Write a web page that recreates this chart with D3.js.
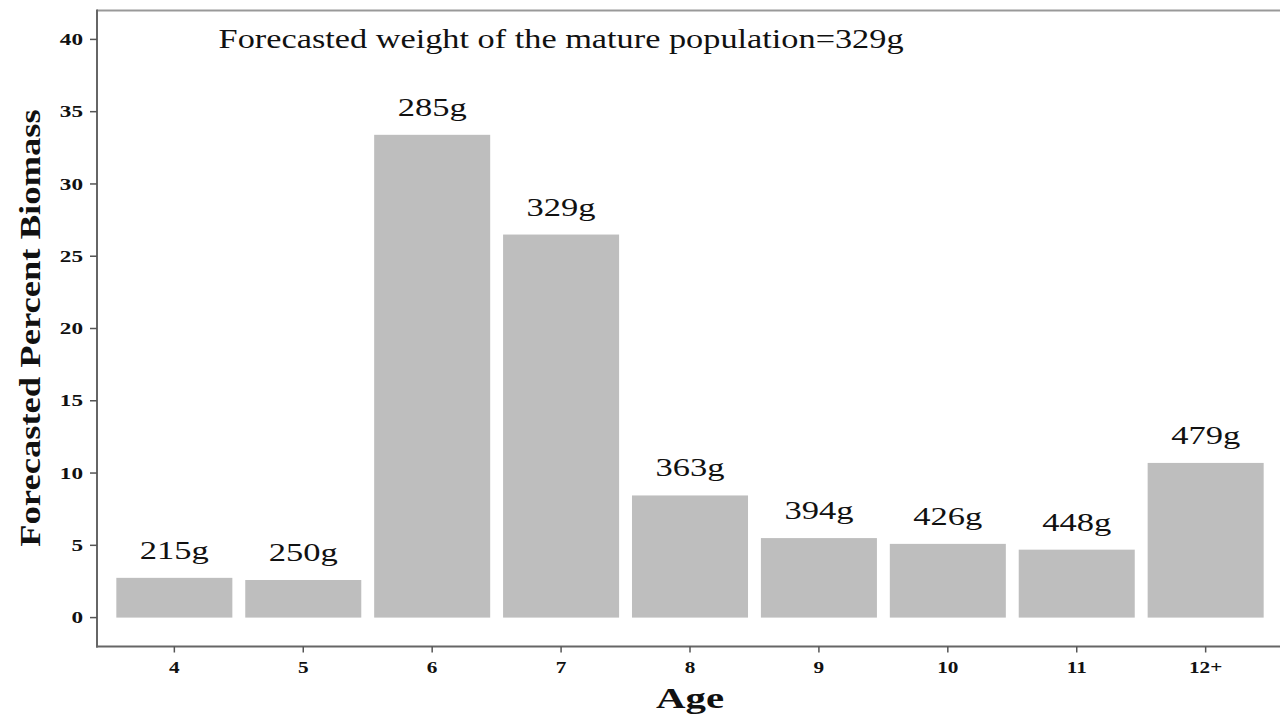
<!DOCTYPE html>
<html>
<head>
<meta charset="utf-8">
<script src="https://cdn.jsdelivr.net/npm/d3@7"></script>
<style>
  body { margin: 0; background: #fff; }
  text { font-family: "Liberation Serif", "Times New Roman", serif; fill: #111; }
</style>
</head>
<body>
<div id="vis"></div>
<script>
'use strict';

// data
var ages = ['4', '5', '6', '7', '8', '9', '10', '11', '12+'];
var percentBiomass = [2.75, 2.6, 33.4, 26.5, 8.45, 5.5, 5.1, 4.7, 10.7];
var weightLabels = ['215g', '250g', '285g', '329g', '363g', '394g', '426g', '448g', '479g'];
var yTicks = [0, 5, 10, 15, 20, 25, 30, 35, 40];
var noteText = 'Forecasted weight of the mature population=329g';

//layout
var width = 1280, height = 717;
var margin = { top: 10.5, left: 97 };
var dim = { w: 1186, h: 636 };

var x = d3.scaleBand().domain(ages).range([0, dim.w]).paddingInner(0.1).paddingOuter(0.15);
var y = d3.scaleLinear().domain([-2, 42]).range([dim.h, 0]);

var svg = d3.select('#vis')
    .append('svg')
    .attr('width', width)
    .attr('height', height)
    .append('g')
    .attr('transform', 'translate(' + margin.left + ',' + margin.top + ')');

//text that is stretched sideways like in the picture
function stretchedText(parent, px, py, str, size, sx, opts) {
    opts = opts || {};
    var g = parent.append('g')
        .attr('transform', 'translate(' + px + ',' + py + ')' + (opts.rotate ? ' rotate(' + opts.rotate + ')' : '') + ' scale(' + sx + ',1)');
    return g.append('text')
        .attr('text-anchor', opts.anchor || 'middle')
        .attr('dominant-baseline', opts.baseline || 'auto')
        .style('font-size', size + 'px')
        .style('font-weight', opts.bold ? 'bold' : 'normal')
        .text(str);
}

//bars
svg.selectAll('.bar')
    .data(percentBiomass)
    .enter()
    .append('rect')
    .attr('class', 'bar')
    .attr('x', function (d, i) { return x(ages[i]); })
    .attr('width', x.bandwidth())
    .attr('y', function (d) { return y(d); })
    .attr('height', function (d) { return y(0) - y(d); })
    .style('fill', '#bebebe');

//weight labels above bars
percentBiomass.forEach(function (d, i) {
    stretchedText(svg, x(ages[i]) + x.bandwidth() / 2, y(d) - 19, weightLabels[i], 25, 1.38);
});

//note
stretchedText(svg, x('7') + x.bandwidth() / 2, y(40), noteText, 27, 1.27, { baseline: 'central' });

//panel border (top)
svg.append('line')
    .attr('x1', 0).attr('x2', dim.w)
    .attr('y1', 0).attr('y2', 0)
    .style('stroke', '#999').style('stroke-width', 2);

//y axis
var yAxis = svg.append('g');
yAxis.append('line')
    .attr('x1', 0).attr('x2', 0).attr('y1', -1).attr('y2', dim.h + 1)
    .style('stroke', '#666').style('stroke-width', 2);
yTicks.forEach(function (t) {
    yAxis.append('line')
        .attr('x1', -7).attr('x2', 0).attr('y1', y(t)).attr('y2', y(t))
        .style('stroke', '#555').style('stroke-width', 1.5);
    stretchedText(yAxis, -14, y(t), String(t), 16, 1.45, { anchor: 'end', baseline: 'central', bold: true });
});

//x axis
var xAxis = svg.append('g');
xAxis.append('line')
    .attr('x1', -1).attr('x2', dim.w).attr('y1', dim.h).attr('y2', dim.h)
    .style('stroke', '#666').style('stroke-width', 2);
ages.forEach(function (a) {
    var cx = x(a) + x.bandwidth() / 2;
    xAxis.append('line')
        .attr('x1', cx).attr('x2', cx).attr('y1', dim.h).attr('y2', dim.h + 6)
        .style('stroke', '#555').style('stroke-width', 1.5);
    stretchedText(xAxis, cx, dim.h + 21, a, 17, 1.25, { baseline: 'central', bold: true });
});

//axis titles
stretchedText(svg, 690 - margin.left, 698 - margin.top, 'Age', 30, 1.36, { baseline: 'central', bold: true });
stretchedText(svg, 30 - margin.left, 328 - margin.top, 'Forecasted Percent Biomass', 30, 1.22,
    { baseline: 'central', bold: true, rotate: -90 });
</script>
</body>
</html>
